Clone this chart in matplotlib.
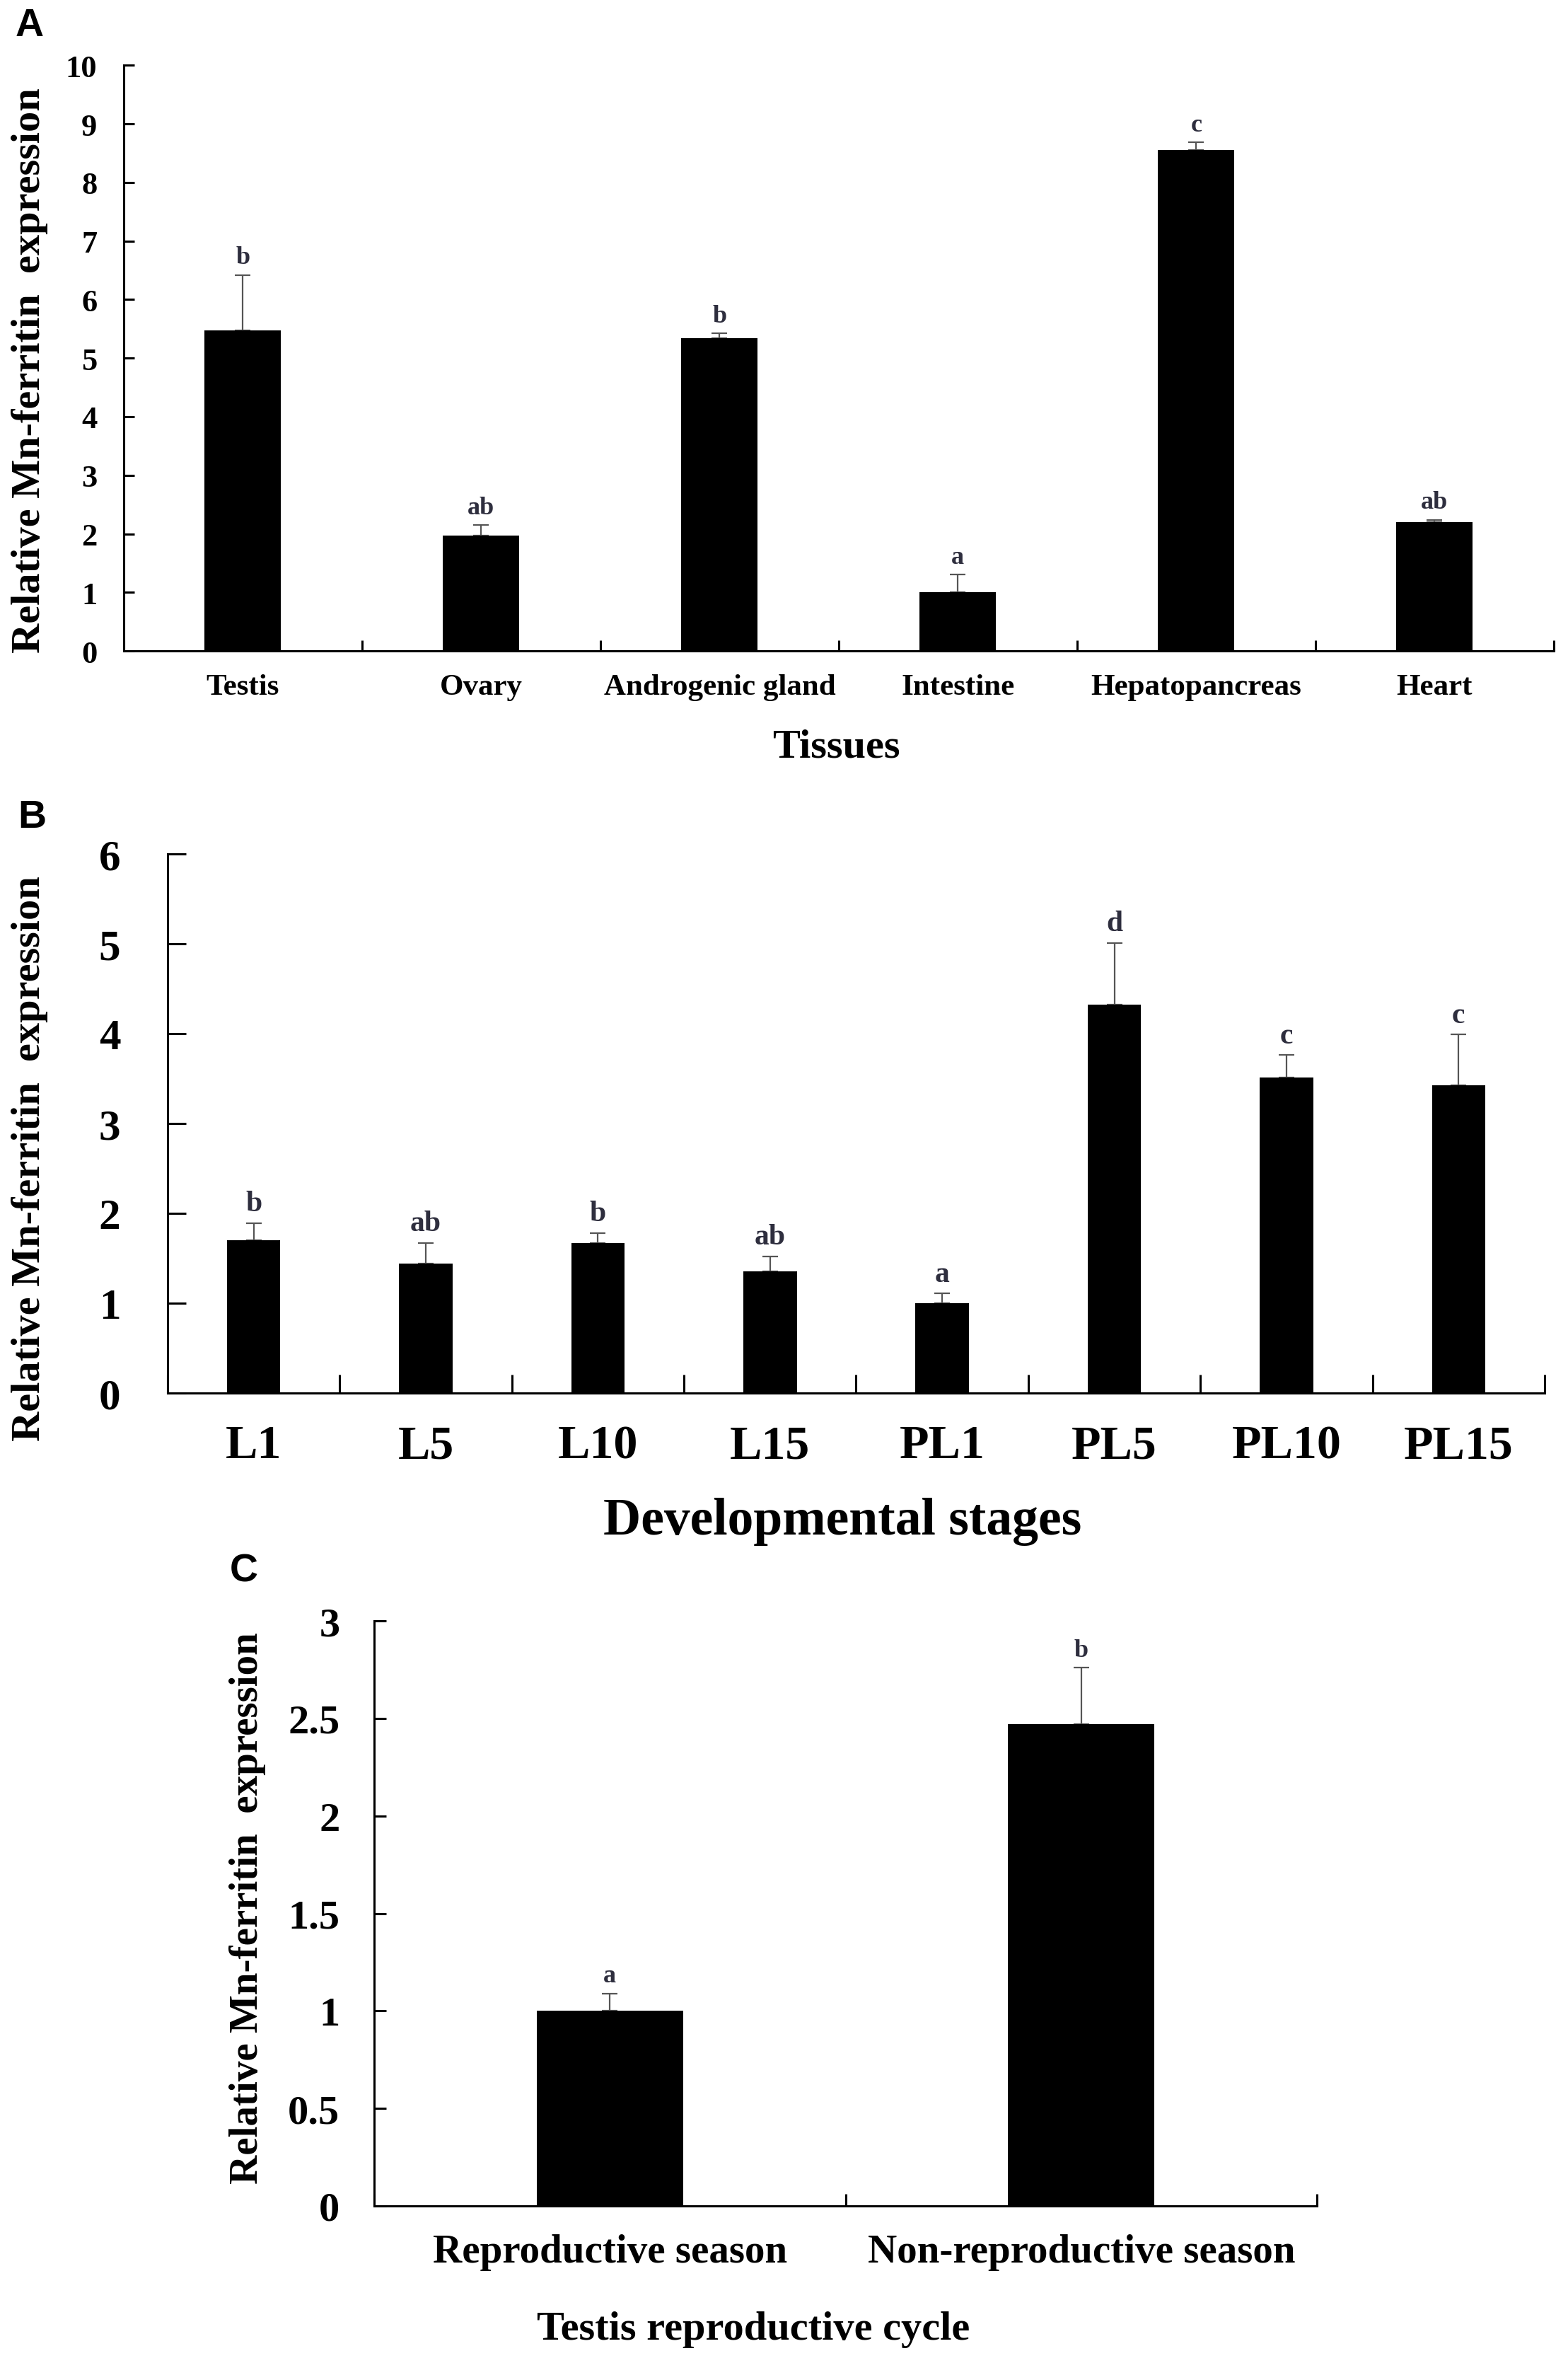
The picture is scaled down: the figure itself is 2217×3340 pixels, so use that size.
"""
Relative Mn-ferritin expression: tissues (A), developmental stages (B),
testis reproductive cycle (C)
"""
import numpy as np
import matplotlib
matplotlib.use("Agg")
import matplotlib.pyplot as plt

# ---- data ----
tissues = ["Testis", "Ovary", "Androgenic gland", "Intestine", "Hepatopancreas", "Heart"]
tissue_mean = [5.47, 1.97, 5.34, 1.00, 8.55, 2.20]
tissue_err = [0.95, 0.18, 0.08, 0.30, 0.13, 0.04]
tissue_sig = ["b", "ab", "b", "a", "c", "ab"]

stages = ["L1", "L5", "L10", "L15", "PL1", "PL5", "PL10", "PL15"]
stage_mean = [1.70, 1.44, 1.67, 1.35, 1.00, 4.32, 3.51, 3.42]
stage_err = [0.19, 0.23, 0.11, 0.17, 0.11, 0.69, 0.25, 0.57]
stage_sig = ["b", "ab", "b", "ab", "a", "d", "c", "c"]

seasons = ["Reproductive season", "Non-reproductive season"]
season_mean = [1.00, 2.47]
season_err = [0.09, 0.29]
season_sig = ["a", "b"]

tissue_yticks = list(range(0, 11))
stage_yticks = list(range(0, 7))
season_yticks = [0, 0.5, 1, 1.5, 2, 2.5, 3]
season_yticklabels = ["0", "0.5", "1", "1.5", "2", "2.5", "3"]

ylab = "Relative Mn-ferritin  expression"

plt.rcParams["font.family"] = ["Liberation Serif", "DejaVu Serif"]
plt.rcParams["font.weight"] = "bold"

W, H = 2217, 3341
fig = plt.figure(figsize=(W / 100, H / 100), dpi=100)


def panel(rect, cats, mean, err, sig, yticks, ytl, ylim,
          fs_y, fs_x, fs_sig, ypad, xpad, ticklen, barw=0.32):
    ax = fig.add_axes(rect)
    x = np.arange(len(cats))
    ax.bar(x, mean, width=barw, color="black", zorder=2)
    # one-sided (upper) error bars
    ax.errorbar(x, mean, yerr=[np.zeros(len(err)), err], fmt="none",
                ecolor="#555555", elinewidth=1.6, capsize=8, capthick=1.6, zorder=1)
    for xi, m, e, s in zip(x, mean, err, sig):
        ax.annotate(s, (xi, m + e), xytext=(0, 6), textcoords="offset points",
                    ha="center", va="bottom", fontsize=fs_sig, color="#2e2e3e",
                    fontweight="bold")
    ax.set_xlim(-0.5, len(cats) - 0.5)
    ax.set_ylim(*ylim)
    ax.set_yticks(yticks)
    ax.set_yticklabels(ytl, fontsize=fs_y, fontweight="bold")
    # major ticks on category boundaries, labels on minor ticks
    ax.set_xticks(np.arange(len(cats) + 1) - 0.5)
    ax.set_xticklabels([])
    ax.set_xticks(x, minor=True)
    ax.set_xticklabels(cats, minor=True, fontsize=fs_x, fontweight="bold")
    ax.tick_params(axis="x", which="minor", length=0, pad=xpad)
    ax.tick_params(axis="x", which="major", direction="in", length=ticklen, width=2.2)
    ax.tick_params(axis="y", direction="in", length=ticklen, width=2.2, pad=ypad)
    for side in ("top", "right"):
        ax.spines[side].set_visible(False)
    for side in ("left", "bottom"):
        ax.spines[side].set_linewidth(2.2)
    return ax


# ---- A: tissues ----
axA = panel([0.0789, 0.7243, 0.912, 0.2478], tissues, tissue_mean, tissue_err,
            tissue_sig, tissue_yticks, [str(t) for t in tissue_yticks], (0, 10),
            fs_y=32, fs_x=31, fs_sig=26, ypad=27, xpad=23, ticklen=11)
axA.set_xlabel("Tissues", fontsize=42, fontweight="bold", va="center")
axA.xaxis.set_label_coords(0.498, -0.163)
axA.set_ylabel(ylab, fontsize=42, fontweight="bold", va="center")
axA.yaxis.set_label_coords(-0.0658, 0.48)

# ---- B: developmental stages ----
axB = panel([0.1069, 0.4104, 0.8782, 0.2281], stages, stage_mean, stage_err,
            stage_sig, stage_yticks, [str(t) for t in stage_yticks], (0, 6),
            fs_y=44, fs_x=49, fs_sig=30, ypad=48, xpad=32, ticklen=19, barw=0.31)
axB.set_xlabel("Developmental stages", fontsize=53, fontweight="bold", va="center")
axB.xaxis.set_label_coords(0.49, -0.238)
axB.set_ylabel(ylab, fontsize=42, fontweight="bold", va="center")
axB.yaxis.set_label_coords(-0.100, 0.436)

# ---- C: testis reproductive cycle ----
axC = panel([0.2386, 0.06645, 0.6013, 0.2475], seasons, season_mean, season_err,
            season_sig, season_yticks, season_yticklabels, (0, 3),
            fs_y=42, fs_x=41, fs_sig=26, ypad=35, xpad=28, ticklen=12, barw=0.31)
axC.set_xlabel("Testis reproductive cycle", fontsize=42, fontweight="bold", va="center")
axC.xaxis.set_label_coords(0.402, -0.211)
axC.set_ylabel(ylab, fontsize=41, fontweight="bold", va="center")
axC.yaxis.set_label_coords(-0.134, 0.51)

# panel letters
for lab, px, py in [("A", 42, 37), ("B", 45, 1156), ("C", 345, 2222)]:
    fig.text(px / W, 1 - py / H, lab, fontsize=40, fontweight="bold",
             family=["Liberation Sans", "DejaVu Sans"], ha="center", va="center")

fig.savefig("out.png", dpi=100)
